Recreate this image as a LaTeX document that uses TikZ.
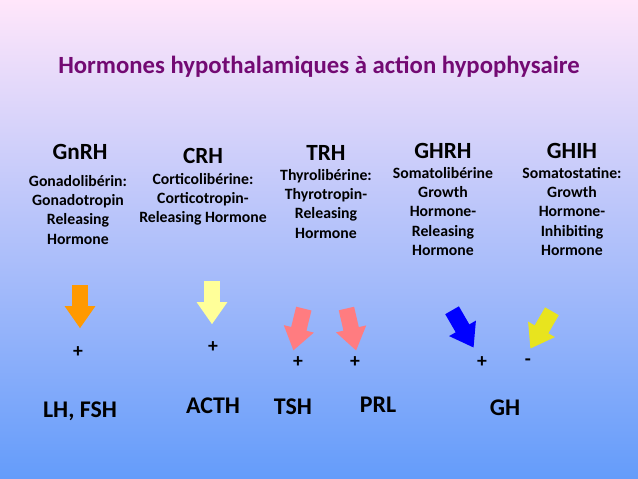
\documentclass[tikz,border=0pt]{standalone}
\usepackage{fontspec}
\setmainfont{Carlito}
\usetikzlibrary{shapes.arrows}

\definecolor{titlepurple}{RGB}{115,10,115}
\definecolor{bgtop}{RGB}{255,230,250}
\definecolor{bgmid}{RGB}{185,198,250}
\definecolor{bgbot}{RGB}{100,156,250}
\definecolor{gnorange}{RGB}{255,153,0}
\definecolor{crhyellow}{RGB}{255,255,153}
\definecolor{trhpink}{RGB}{255,124,128}
\definecolor{ghrhblue}{RGB}{0,0,255}
\definecolor{ghihyellow}{RGB}{232,228,30}

\begin{document}
\begin{tikzpicture}[x=0.25mm, y=-0.25mm,
    hormone/.style={font=\bfseries\fontsize{16.5}{19}\selectfont, inner sep=0pt},
    fullname/.style={font=\bfseries\fontsize{11.2}{13.7}\selectfont, align=center, anchor=north, inner sep=0pt},
    target/.style={font=\bfseries\fontsize{17}{20}\selectfont, inner sep=0pt},
    sign/.style={font=\bfseries\fontsize{14}{16}\selectfont, inner sep=0pt},
    arrowbox/.style={single arrow, draw=none, fill=#1, inner xsep=0pt, inner ysep=1.9mm,
        minimum height=10.75mm,
        single arrow head extend=1.9mm, single arrow tip angle=70}]
    \shade[top color=bgtop, middle color=bgmid, bottom color=bgbot] (0,0) rectangle (638,479);
    \useasboundingbox (0,0) rectangle (638,479);

    \node[font=\bfseries\fontsize{17.6}{20}\selectfont, text=titlepurple] (title) at (319,67) {Hormones hypothalamiques à action hypophysaire};

    % releasing / inhibiting hormones
    \node[hormone] (gnrh) at (80,152) {GnRH};
    \node[hormone] (crh) at (203,156) {CRH};
    \node[hormone] (trh) at (326,153) {TRH};
    \node[hormone] (ghrh) at (443,151) {GHRH};
    \node[hormone] (ghih) at (572,151) {GHIH};

    \node[fullname] (gnrhtxt) at (78,175) {Gonadolibérin:\\Gonadotropin\\Releasing\\Hormone};
    \node[fullname] (crhtxt) at (203,173) {Corticolibérine:\\Corticotropin-\\Releasing Hormone};
    \node[fullname] (trhtxt) at (326,169) {Thyrolibérine:\\Thyrotropin-\\Releasing\\Hormone};
    \node[fullname] (ghrhtxt) at (443,167) {Somatolibérine\\Growth\\Hormone-\\Releasing\\Hormone};
    \node[fullname] (ghihtxt) at (572,167) {Somatostatine:\\Growth\\Hormone-\\Inhibiting\\Hormone};

    % block arrows
    \node[arrowbox=gnorange, rotate=-90] (agn) at (80,301) {};
    \node[arrowbox=crhyellow, rotate=-90] (acrh) at (212,297) {};
    \node[arrowbox=trhpink, rotate=-104] (atsh) at (300,324) {};
    \node[arrowbox=trhpink, rotate=-77] (aprl) at (350,324) {};
    \node[arrowbox=ghrhblue, rotate=-60] (agh) at (460,324) {};
    \node[arrowbox=ghihyellow, rotate=-120] (aghih) at (544,325) {};

    % effects
    \node[sign] (p1) at (78,352) {+};
    \node[sign] (p2) at (213,347) {+};
    \node[sign] (p3) at (298,362) {+};
    \node[sign] (p4) at (355,362) {+};
    \node[sign] (p5) at (482,362) {+};
    \node[sign] (m1) at (528,362) {-};

    % pituitary hormones
    \node[target] (lhfsh) at (80,411) {LH, FSH};
    \node[target] (acth) at (213,406) {ACTH};
    \node[target] (tsh) at (293,407) {TSH};
    \node[target] (prl) at (378,405) {PRL};
    \node[target] (gh) at (505,408) {GH};
\end{tikzpicture}
\end{document}
